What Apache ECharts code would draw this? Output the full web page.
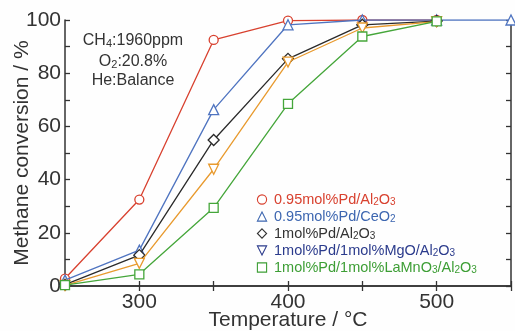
<!DOCTYPE html>
<html><head><meta charset="utf-8">
<script src="https://cdn.jsdelivr.net/npm/echarts@6/dist/echarts.min.js"></script>
<style>html,body{margin:0;padding:0;background:#fff}#c{width:515px;height:331px}</style>
</head><body><div id="c"></div>
<script>
// ---- data ----
const temps = [250, 300, 350, 400, 450, 500, 550];
const seriesNames = ['0.95mol%Pd/Al2O3', '0.95mol%Pd/CeO2', '1mol%Pd/Al2O3', '1mol%Pd/1mol%MgO/Al2O3', '1mol%Pd/1mol%LaMnO3/Al2O3'];
const pdAl2O3 = [2.8, 32.5, 92.5, 99.8, 100, 100];
const pdCeO2 = [2.2, 13.5, 66.3, 98.2, 100, 100, 100];
const pd1Al2O3 = [0.5, 11.6, 54.9, 85.4, 98.2, 99.6];
const pdMgO = [0.2, 8.5, 43.9, 84.2, 97.0, 99.4];
const pdLaMnO3 = [0.3, 4.4, 29.4, 68.5, 93.8, 99.5];
const xTickLabels = [300, 400, 500];
const yTickLabels = [0, 20, 40, 60, 80, 100];

const FONT = "'Liberation Sans', Arial, sans-serif";
const colors = ['#d8412f', '#4f74c0', '#2a2a2a', '#e89a2e', '#45a63a'];
const legendTextColors = ['#d8412f', '#3d66b0', '#333333', '#2b3b8c', '#3d9e35'];
const symbols = ['circle', 'triangle', 'diamond', 'triangle', 'rect'];
const rotates = [0, 0, 0, 180, 0];
const sizes = [9, 10, 11, 10, 9];
const values = [pdAl2O3, pdCeO2, pd1Al2O3, pdMgO, pdLaMnO3];

const sub = s => s.replace(/([A-Za-z])(\d)/g, '$1{s|$2}');

const series = values.map((vals, k) => ({
  name: seriesNames[k],
  type: 'line',
  data: vals.map((v, i) => [temps[i], v]),
  symbol: symbols[k],
  symbolRotate: rotates[k],
  symbolSize: sizes[k],
  showAllSymbol: true,
  lineStyle: { color: colors[k], width: 1.3 },
  itemStyle: { color: '#fff', borderColor: colors[k], borderWidth: 1.3 },
  emphasis: { disabled: true },
  z: 2 + k
}));

const axisCommon = {
  axisLine: { show: true, lineStyle: { color: '#333', width: 1.5 } },
  axisTick: { show: true, inside: true, length: 5, lineStyle: { color: '#333', width: 1.3 } },
  splitLine: { show: false }
};

const chart = echarts.init(document.getElementById('c'), null, { renderer: 'canvas' });
chart.setOption({
  backgroundColor: '#fefefe',
  animation: false,
  grid: { left: 65, right: 4, top: 20, bottom: 45, containLabel: false, outerBoundsMode: 'none' },
  xAxis: [
    Object.assign({
      type: 'value', min: 250, max: 550, interval: 50, position: 'bottom',
      name: 'Temperature / °C', nameLocation: 'middle', nameGap: 24, nameMoveOverlap: false,
      nameTextStyle: { fontSize: 21, color: '#333', fontFamily: FONT },
      axisLabel: {
        fontSize: 21, color: '#333', fontFamily: FONT, margin: 6,
        formatter: v => xTickLabels.indexOf(v) >= 0 ? String(v) : ''
      }
    }, axisCommon),
    Object.assign({
      type: 'value', min: 250, max: 550, interval: 50, position: 'top',
      axisLabel: { show: false }
    }, axisCommon)
  ],
  yAxis: [
    Object.assign({
      type: 'value', min: 0, max: 100, interval: 10, position: 'left',
      name: 'Methane conversion / %', nameLocation: 'middle', nameGap: 32, nameMoveOverlap: false,
      nameTextStyle: { fontSize: 21, color: '#333', fontFamily: FONT },
      axisLabel: {
        fontSize: 21, color: '#333', fontFamily: FONT, margin: 4,
        formatter: v => yTickLabels.indexOf(v) >= 0 ? String(v) : ''
      }
    }, axisCommon),
    Object.assign({
      type: 'value', min: 0, max: 100, interval: 10, position: 'right',
      axisLabel: { show: false }
    }, axisCommon)
  ],
  legend: {
    orient: 'vertical', left: 249, top: 187,
    itemWidth: 14, itemHeight: 11.5, itemGap: 2,
    lineStyle: { opacity: 0 },
    itemStyle: { borderWidth: 1.1 },
    selectedMode: false,
    formatter: name => sub(name),
    textStyle: {
      fontSize: 14.5, fontFamily: FONT, lineHeight: 15,
      rich: { s: { fontSize: 10, fontFamily: FONT, verticalAlign: 'bottom', padding: [4, 0, 0, 0] } }
    },
    data: seriesNames.map((n, k) => ({
      name: n,
      textStyle: { color: legendTextColors[k] },
      itemStyle: { borderColor: legendTextColors[k], color: '#fff', borderWidth: 1.1 }
    }))
  },
  graphic: [
    { type: 'text', position: [133, 41], style: { text: 'CH{s|4}:1960ppm', x: 0, y: 0, align: 'center', verticalAlign: 'middle', font: '16px ' + FONT, fill: '#333',
        rich: { s: { fontSize: 11, fontFamily: FONT, fill: '#333', verticalAlign: 'bottom', padding: [5, 0, 0, 0] } } } },
    { type: 'text', position: [133, 62], style: { text: 'O{s|2}:20.8%', x: 0, y: 0, align: 'center', verticalAlign: 'middle', font: '16px ' + FONT, fill: '#333',
        rich: { s: { fontSize: 11, fontFamily: FONT, fill: '#333', verticalAlign: 'bottom', padding: [5, 0, 0, 0] } } } },
    { type: 'text', position: [133, 81], style: { text: 'He:Balance', x: 0, y: 0, align: 'center', verticalAlign: 'middle', font: '16px ' + FONT, fill: '#333' } }
  ],
  series: series
});
</script>
</body></html>
